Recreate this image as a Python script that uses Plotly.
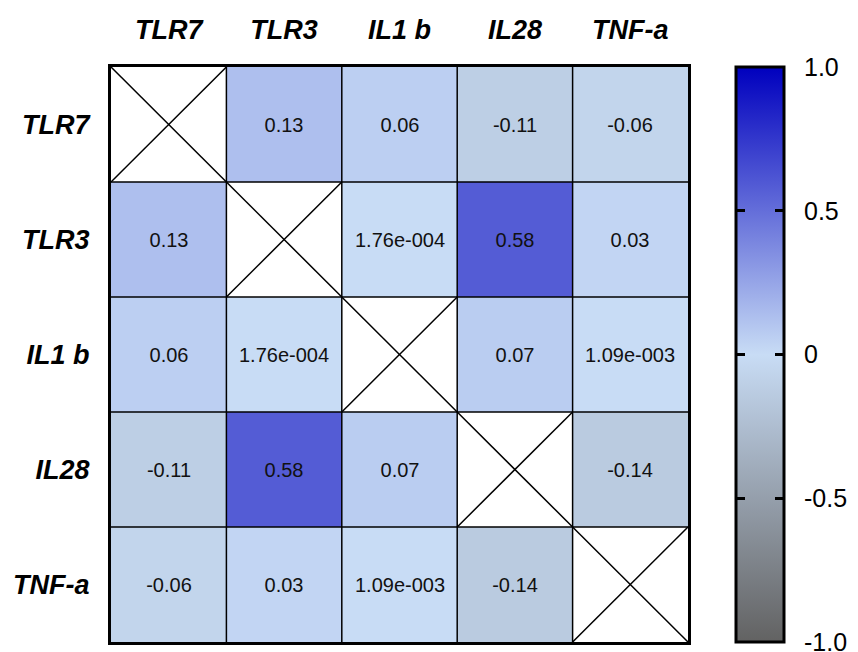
import plotly.graph_objects as go

genes = ["TLR7", "TLR3", "IL1 b", "IL28", "TNF-a"]
# correlation matrix (None on the diagonal)
corr = [
    [None, 0.13, 0.06, -0.11, -0.06],
    [0.13, None, 0.000176, 0.58, 0.03],
    [0.06, 0.000176, None, 0.07, 0.00109],
    [-0.11, 0.58, 0.07, None, -0.14],
    [-0.06, 0.03, 0.00109, -0.14, None],
]
cbar_vals = [-1, -0.5, 0, 0.5, 1]
cbar_text = ["-1.0", "-0.5", "0", "0.5", "1.0"]


def fmt(v):
    if v is None:
        return ""
    if abs(v) < 0.01:
        m, e = f"{v:.2e}".split("e")
        sign = "-" if int(e) < 0 else "+"
        return f"{m}e{sign}{abs(int(e)):03d}"
    return f"{v:.2f}"


text = [[fmt(v) for v in row] for row in corr]
n = len(genes)
idx = list(range(n))

# the page body adds an 8px offset, so the figure is slightly smaller
W, H = 850, 644
L, T = 103, 59
R, B = W - 680, H - 634
pw = W - L - R
cb_left_px = 728
cb_thick = 48
cb_x = (cb_left_px - L) / pw
ZMIN, ZMAX = -1.0005, 1.0005
cscale = [[0, "rgb(98,98,98)"], [0.5, "rgb(200,220,245)"], [1, "rgb(0,0,190)"]]

fig = go.Figure()
fig.add_trace(go.Heatmap(
    z=corr, x=idx, y=idx, text=text, texttemplate="%{text}",
    textfont=dict(family="Liberation Sans, Arial", size=20, color="#111111"),
    zmin=ZMIN, zmax=ZMAX,
    colorscale=cscale,
    hoverongaps=False,
    colorbar=dict(
        x=cb_x, xanchor="left", xpad=0, y=0.5, yanchor="middle", ypad=0,
        len=1, lenmode="fraction", thickness=cb_thick,
        outlinewidth=3, outlinecolor="black",
        tickvals=cbar_vals, ticktext=cbar_text,
        ticks="outside", ticklen=14, tickwidth=1, tickcolor="rgba(0,0,0,0)",
        ticklabeloverflow="allow",
        tickfont=dict(family="Liberation Sans, Arial", size=25, color="black"),
    ),
))

# invisible helper scales that only draw the short inner tick marks
clear = [[0, "rgba(0,0,0,0)"], [1, "rgba(0,0,0,0)"]]
tick_len = 9
for left_px in (cb_left_px - 1, cb_left_px + cb_thick - tick_len - 1):
    fig.add_trace(go.Scatter(
        x=[None], y=[None], mode="markers", showlegend=False, hoverinfo="skip",
        marker=dict(color=[0], cmin=ZMIN, cmax=ZMAX, colorscale=clear, showscale=True,
                    colorbar=dict(
                        x=(left_px - L) / pw, xanchor="left", xpad=0,
                        y=0.5, yanchor="middle", ypad=0, len=1, lenmode="fraction",
                        thickness=1, outlinewidth=0,
                        tickvals=cbar_vals[1:-1], showticklabels=False,
                        ticks="outside", ticklen=tick_len, tickwidth=3, tickcolor="black",
                    )),
    ))

shapes = []
# cell borders
for k in range(n - 1):
    b = k + 0.5
    shapes.append(dict(type="line", xref="x", yref="y", x0=b, x1=b, y0=-0.5, y1=n - 0.5,
                       line=dict(color="black", width=1.5)))
    shapes.append(dict(type="line", xref="x", yref="y", y0=b, y1=b, x0=-0.5, x1=n - 0.5,
                       line=dict(color="black", width=1.5)))
# crosses on the diagonal
for i in idx:
    shapes.append(dict(type="line", xref="x", yref="y", x0=i - 0.5, x1=i + 0.5, y0=i - 0.5, y1=i + 0.5,
                       line=dict(color="black", width=1.5)))
    shapes.append(dict(type="line", xref="x", yref="y", x0=i - 0.5, x1=i + 0.5, y0=i + 0.5, y1=i - 0.5,
                       line=dict(color="black", width=1.5)))

label_font = dict(family="Liberation Sans, Arial", size=27, color="black", weight="bold", style="italic")

fig.update_layout(
    template="none",
    width=W, height=H,
    margin=dict(l=L, r=R, t=T, b=B, autoexpand=False),
    paper_bgcolor="white", plot_bgcolor="white",
    shapes=shapes,
    showlegend=False,
    xaxis=dict(side="top", tickvals=idx, ticktext=genes, range=[-0.5, n - 0.5],
               showgrid=False, zeroline=False, ticks="", ticklabelstandoff=14,
               showline=True, mirror=True, linecolor="black", linewidth=3,
               automargin=False, tickfont=label_font),
    yaxis=dict(tickvals=idx, ticktext=genes, range=[n - 0.5, -0.5],
               showgrid=False, zeroline=False, ticks="", ticklabelstandoff=13,
               showline=True, mirror=True, linecolor="black", linewidth=3,
               automargin=False, tickfont=label_font),
)

fig.write_html("out.html")
